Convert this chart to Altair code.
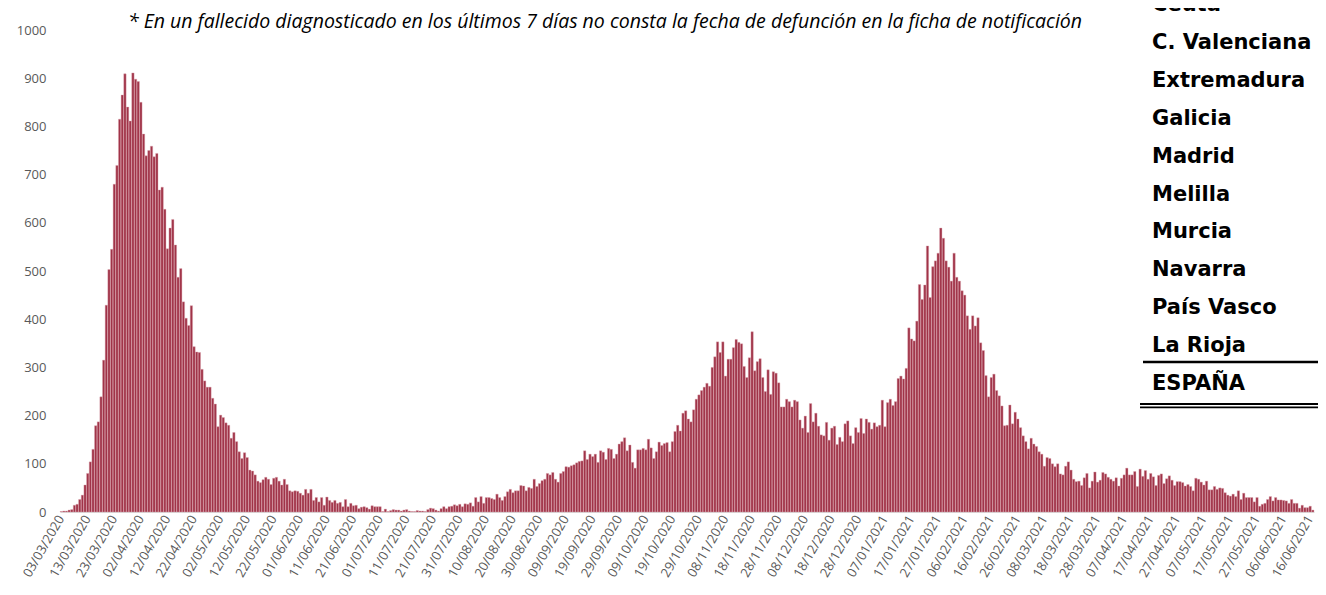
import altair as alt
import pandas as pd

# Daily deaths (by date of death)
deaths_mar_apr_2020 = [1, 2, 2, 4, 5, 14, 16, 26, 35, 56, 80, 104, 130, 179, 187, 239, 315, 429, 503, 545,
                       680, 719, 815, 865, 909, 840, 811, 911, 898, 893, 850, 784, 739, 750, 759, 737, 744, 668, 674]
deaths_apr_may_2020 = [628, 546, 589, 607, 554, 487, 505, 436, 402, 387, 428, 343, 332, 331, 296, 272, 259, 259, 236, 224,
                       177, 201, 196, 185, 180, 153, 165, 146, 125, 111, 123, 113, 87, 85, 77, 64, 61, 67]
deaths_may_jun_2020 = [72, 68, 57, 70, 72, 64, 56, 68, 57, 44, 42, 44, 43, 39, 35, 47, 39, 47, 24, 30,
                       21, 30, 14, 31, 24, 20, 24, 18, 20, 11, 26, 11, 18, 13, 14, 7, 10, 11, 9, 6]
deaths_jun_aug_2020 = [13, 11, 11, 11, 1, 6, 1, 3, 5, 4, 4, 2, 4, 5, 2, 1, 1, 3, 2, 2,
                       1, 5, 8, 7, 4, 2, 7, 11, 7, 11, 12, 15, 13, 16, 11, 17, 16]
deaths_aug_sep_2020 = [19, 12, 30, 21, 32, 18, 30, 30, 28, 26, 37, 30, 24, 32, 42, 47, 40, 44, 44, 55,
                       54, 44, 51, 49, 68, 53, 59, 65, 68, 80, 77, 82, 68, 62, 80, 84, 94, 93, 96, 98, 102]
deaths_sep_oct_2020 = [105, 106, 127, 109, 120, 115, 120, 103, 127, 124, 109, 132, 130, 111, 120, 141, 146, 154, 127, 139,
                       103, 91, 129, 129, 132, 129, 151, 133, 111, 125, 145, 138, 142, 144, 125, 146, 167, 180]
deaths_oct_nov_2020 = [168, 205, 210, 193, 187, 212, 234, 243, 252, 259, 267, 261, 300, 322, 353, 331, 353, 282, 317, 317,
                       341, 358, 352, 349, 302, 279, 320, 374, 293, 312, 318, 279, 250, 295, 244, 291, 288]
deaths_nov_dec_2020 = [268, 218, 218, 234, 229, 218, 232, 229, 191, 174, 199, 165, 225, 187, 205, 178, 160, 158, 186, 149,
                       174, 178, 140, 155, 146, 183, 189, 158, 142, 175, 165, 194, 163, 193, 186, 172, 185, 177]
deaths_jan_feb_2021 = [180, 232, 177, 227, 234, 221, 229, 277, 282, 276, 298, 382, 359, 355, 396, 472, 441, 471, 552, 445,
                       509, 521, 537, 589, 568, 521, 508, 479, 537, 487, 479, 459, 450, 407, 379, 407, 386]
deaths_feb_mar_2021 = [403, 351, 335, 283, 239, 279, 286, 252, 241, 220, 179, 180, 222, 183, 207, 193, 175, 158, 146, 131,
                       153, 141, 136, 125, 120, 95, 113, 111, 100, 94, 100, 79, 77, 95, 104, 87, 68, 63]
deaths_mar_apr_2021 = [64, 55, 71, 80, 50, 64, 83, 62, 66, 82, 79, 72, 68, 64, 71, 54, 70, 77, 91, 77,
                       77, 84, 53, 89, 74, 86, 68, 80, 73, 55, 76, 79, 59, 69, 75, 66, 55]
deaths_apr_jun_2021 = [63, 63, 61, 54, 57, 53, 44, 70, 68, 62, 56, 64, 46, 46, 53, 47, 50, 49, 40, 35,
                       33, 37, 32, 44, 26, 39, 30, 30, 30, 21, 30, 12, 16, 18, 26, 32, 23, 30, 25, 25,
                       24, 23, 18, 26, 18, 18, 8, 14, 9, 9, 12, 4]

deaths = (deaths_mar_apr_2020 + deaths_apr_may_2020 + deaths_may_jun_2020 + deaths_jun_aug_2020 +
          deaths_aug_sep_2020 + deaths_sep_oct_2020 + deaths_oct_nov_2020 + deaths_nov_dec_2020 +
          deaths_jan_feb_2021 + deaths_feb_mar_2021 + deaths_mar_apr_2021 + deaths_apr_jun_2021)

dates = pd.date_range("2020-03-03", periods=len(deaths), freq="D").strftime("%d/%m/%Y").tolist()

tick_labels = ["03/03/2020", "13/03/2020", "23/03/2020", "02/04/2020", "12/04/2020", "22/04/2020",
               "02/05/2020", "12/05/2020", "22/05/2020", "01/06/2020", "11/06/2020", "21/06/2020",
               "01/07/2020", "11/07/2020", "21/07/2020", "31/07/2020", "10/08/2020", "20/08/2020",
               "30/08/2020", "09/09/2020", "19/09/2020", "29/09/2020", "09/10/2020", "19/10/2020",
               "29/10/2020", "08/11/2020", "18/11/2020", "28/11/2020", "08/12/2020", "18/12/2020",
               "28/12/2020", "07/01/2021", "17/01/2021", "27/01/2021", "06/02/2021", "16/02/2021",
               "26/02/2021", "08/03/2021", "18/03/2021", "28/03/2021", "07/04/2021", "17/04/2021",
               "27/04/2021", "07/05/2021", "17/05/2021", "27/05/2021", "06/06/2021", "16/06/2021"]
y_ticks = [0, 100, 200, 300, 400, 500, 600, 700, 800, 900, 1000]

regions = ["Ceuta", "C. Valenciana", "Extremadura", "Galicia", "Madrid", "Melilla",
           "Murcia", "Navarra", "País Vasco", "La Rioja", "ESPAÑA"]

note_text = "* En un  fallecido diagnosticado en los últimos 7 días no consta la fecha de defunción en la ficha de notificación"

df = pd.DataFrame({"fecha": dates, "fallecidos": deaths})
reg_df = pd.DataFrame({"region": regions, "fila": list(range(len(regions)))})

bars = alt.Chart(df).mark_bar(color="#a03348", stroke="#dba3ad", strokeWidth=0.4).encode(
    x=alt.X("fecha:O", sort=dates,
            scale=alt.Scale(paddingInner=0.12, paddingOuter=0),
            axis=alt.Axis(values=tick_labels, title=None, labelAngle=-60, labelAlign="right",
                          labelBaseline="middle", labelFont="Open Sans", labelFontSize=13,
                          labelColor="#595959", ticks=False, domainColor="#d9d9d9",
                          labelPadding=4, labelOffset=0, labelOverlap=False)),
    y=alt.Y("fallecidos:Q", scale=alt.Scale(domain=[0, 1000]),
            axis=alt.Axis(values=y_ticks, format="d", title=None, grid=False, ticks=False, domain=False,
                          labelPadding=14, labelColor="#595959", labelFontSize=13,
                          labelFont="Open Sans")),
)

note = alt.Chart(pd.DataFrame({"t": [note_text]})).mark_text(
    font="Open Sans", fontStyle="italic", fontSize=19.5, align="center", baseline="middle", color="black"
).encode(text="t:N", x=alt.value(545), y=alt.value(-8))

reg = alt.Chart(reg_df).mark_text(
    font="DejaVu Sans", fontWeight="bold", fontSize=21, align="left", baseline="middle", color="black"
).encode(
    text="region:N", x=alt.value(1092),
    y=alt.Y("fila:Q", scale=alt.Scale(domain=[0, 10], range=[-25, 354]), axis=None),
)

line_rioja = alt.Chart(pd.DataFrame({"a": [0]})).mark_rule(color="black", strokeWidth=2.5).encode(
    x=alt.value(1083), x2=alt.value(1266), y=alt.value(332))
line_esp1 = alt.Chart(pd.DataFrame({"a": [0]})).mark_rule(color="black", strokeWidth=1.8).encode(
    x=alt.value(1080), x2=alt.value(1266), y=alt.value(374))
line_esp2 = alt.Chart(pd.DataFrame({"a": [0]})).mark_rule(color="black", strokeWidth=1.8).encode(
    x=alt.value(1080), x2=alt.value(1266), y=alt.value(377.3))

chart = alt.layer(bars, note, reg, line_rioja, line_esp1, line_esp2).resolve_scale(
    y="independent"
).properties(
    width=1254, height=482,
    padding={"left": 52, "top": 22, "right": 4, "bottom": 83},
    autosize=alt.AutoSizeParams(type="none"),
).configure_view(stroke=None)

chart.save("out.html", embed_options={"renderer": "svg", "actions": False})
